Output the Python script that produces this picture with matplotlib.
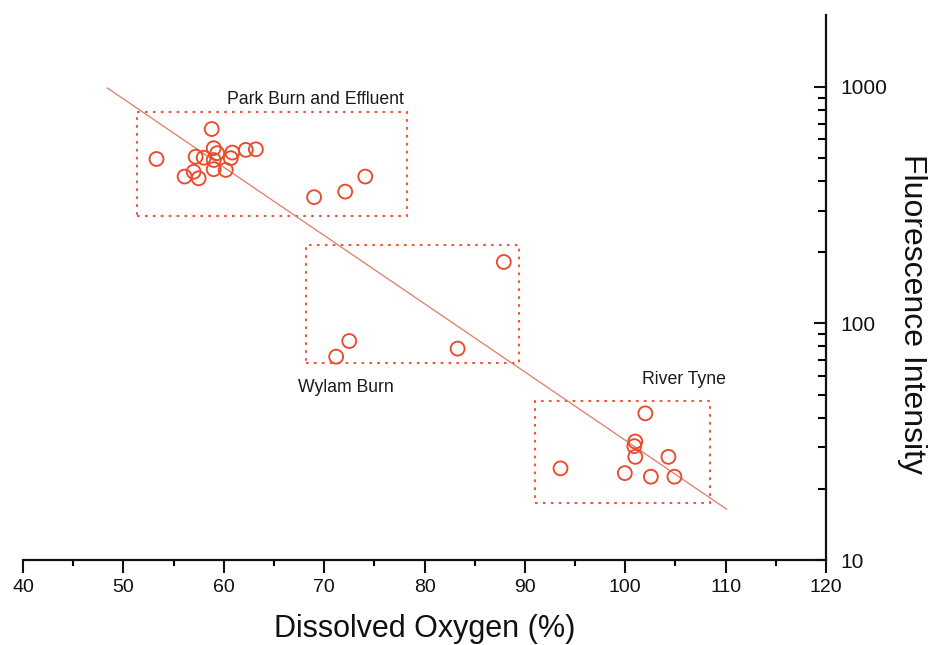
import matplotlib
matplotlib.use("Agg")
import matplotlib.pyplot as plt
from matplotlib.patches import Rectangle
from matplotlib.ticker import FixedLocator, NullFormatter, FixedFormatter

plt.rcParams['font.family'] = ['Liberation Sans', 'DejaVu Sans']

# ---- data ----
park_x = [53.3, 58.8, 57.2, 58.0, 59.0, 59.35, 59.0, 60.7, 60.85, 62.2, 63.2,
          56.1, 57.0, 57.5, 59.0, 60.2, 69.0, 72.1, 74.1]
park_y = [496, 664, 507, 502, 551, 525, 491, 500, 528, 542, 545,
          418, 438, 411, 449, 446, 342, 361, 418]
wylam_x = [87.9, 72.5, 71.2, 83.3]
wylam_y = [182, 84.3, 72.4, 78.3]
tyne_x = [102.0, 101.0, 100.9, 101.0, 104.3, 93.55, 99.96, 102.55, 104.9]
tyne_y = [41.7, 31.7, 30.3, 27.3, 27.3, 24.4, 23.3, 22.5, 22.5]

fit_x = [48.4, 110.1]
fit_y = [990, 16.4]

# group boxes: (x0, x1, y0, y1)
boxes = [(51.4, 78.3, 285.6, 782), (68.2, 89.4, 67.9, 214.7), (91.0, 108.4, 17.4, 47.2)]
labels = ["Park Burn and Effluent", "Wylam Burn", "River Tyne"]
label_pos = [(60.3, 889), (67.4, 53.4), (101.7, 57.9)]

x_major = [40, 50, 60, 70, 80, 90, 100, 110, 120]
x_minor = [45, 55, 65, 75, 85, 95, 105, 115]
y_major = [10, 100, 1000]
y_major_labels = ["10", "100", "1000"]
y_minor = [20, 30, 40, 50, 60, 70, 80, 90, 200, 300, 400, 500, 600, 700, 800, 900]

# ---- figure ----
W, H = 932, 645
fig = plt.figure(figsize=(W / 100, H / 100), dpi=100)
ax = fig.add_axes([23 / W, 85 / H, 803 / W, 545 / H])
ax.set_xlim(40, 120)
ax.set_yscale('log')
ax.set_ylim(10, 2015)

mcol = '#eb4a2b'
ax.plot(fit_x, fit_y, color='#e07a68', lw=0.9, zorder=2)
allx = park_x + wylam_x + tyne_x
ally = park_y + wylam_y + tyne_y
ax.scatter(allx, ally, s=100, facecolors='none', edgecolors=mcol, linewidths=1.35, zorder=3)

for (x0, x1, y0, y1) in boxes:
    ax.add_patch(Rectangle((x0, y0), x1 - x0, y1 - y0, fill=False,
                           edgecolor='#ee5a42', lw=1.5, linestyle=(0, (1.3, 2.5)), zorder=1))
for t, (tx, ty) in zip(labels, label_pos):
    ax.text(tx, ty, t, fontsize=12.7, color='#1a1a1a', ha='left', va='center')

for s in ['left', 'top']:
    ax.spines[s].set_visible(False)
for s in ['bottom', 'right']:
    ax.spines[s].set_linewidth(1.6)
    ax.spines[s].set_color('#111111')

ax.xaxis.set_major_locator(FixedLocator(x_major))
ax.xaxis.set_minor_locator(FixedLocator(x_minor))
ax.tick_params(axis='x', which='major', direction='out', length=9, width=1.5,
               labelsize=14, pad=5, colors='#111111')
ax.tick_params(axis='x', which='minor', direction='out', length=4.5, width=1.5)

ax.yaxis.tick_right()
ax.yaxis.set_major_locator(FixedLocator(y_major))
ax.yaxis.set_major_formatter(FixedFormatter(y_major_labels))
ax.yaxis.set_minor_locator(FixedLocator(y_minor))
ax.yaxis.set_minor_formatter(NullFormatter())
ax.tick_params(axis='y', which='major', direction='in', length=9, width=1.5,
               labelsize=15, pad=10, left=False, right=True, labelleft=False,
               labelright=True, colors='#111111')
ax.tick_params(axis='y', which='minor', direction='in', length=5.5, width=1.5,
               left=False, right=True)

ax.set_xlabel("Dissolved Oxygen (%)", fontsize=22, labelpad=13, color='#111111')
fig.text(912 / W, 1 - 314 / H, "Fluorescence Intensity", fontsize=23, rotation=270,
         ha='center', va='center', color='#111111')

fig.savefig("out.png", dpi=100)
